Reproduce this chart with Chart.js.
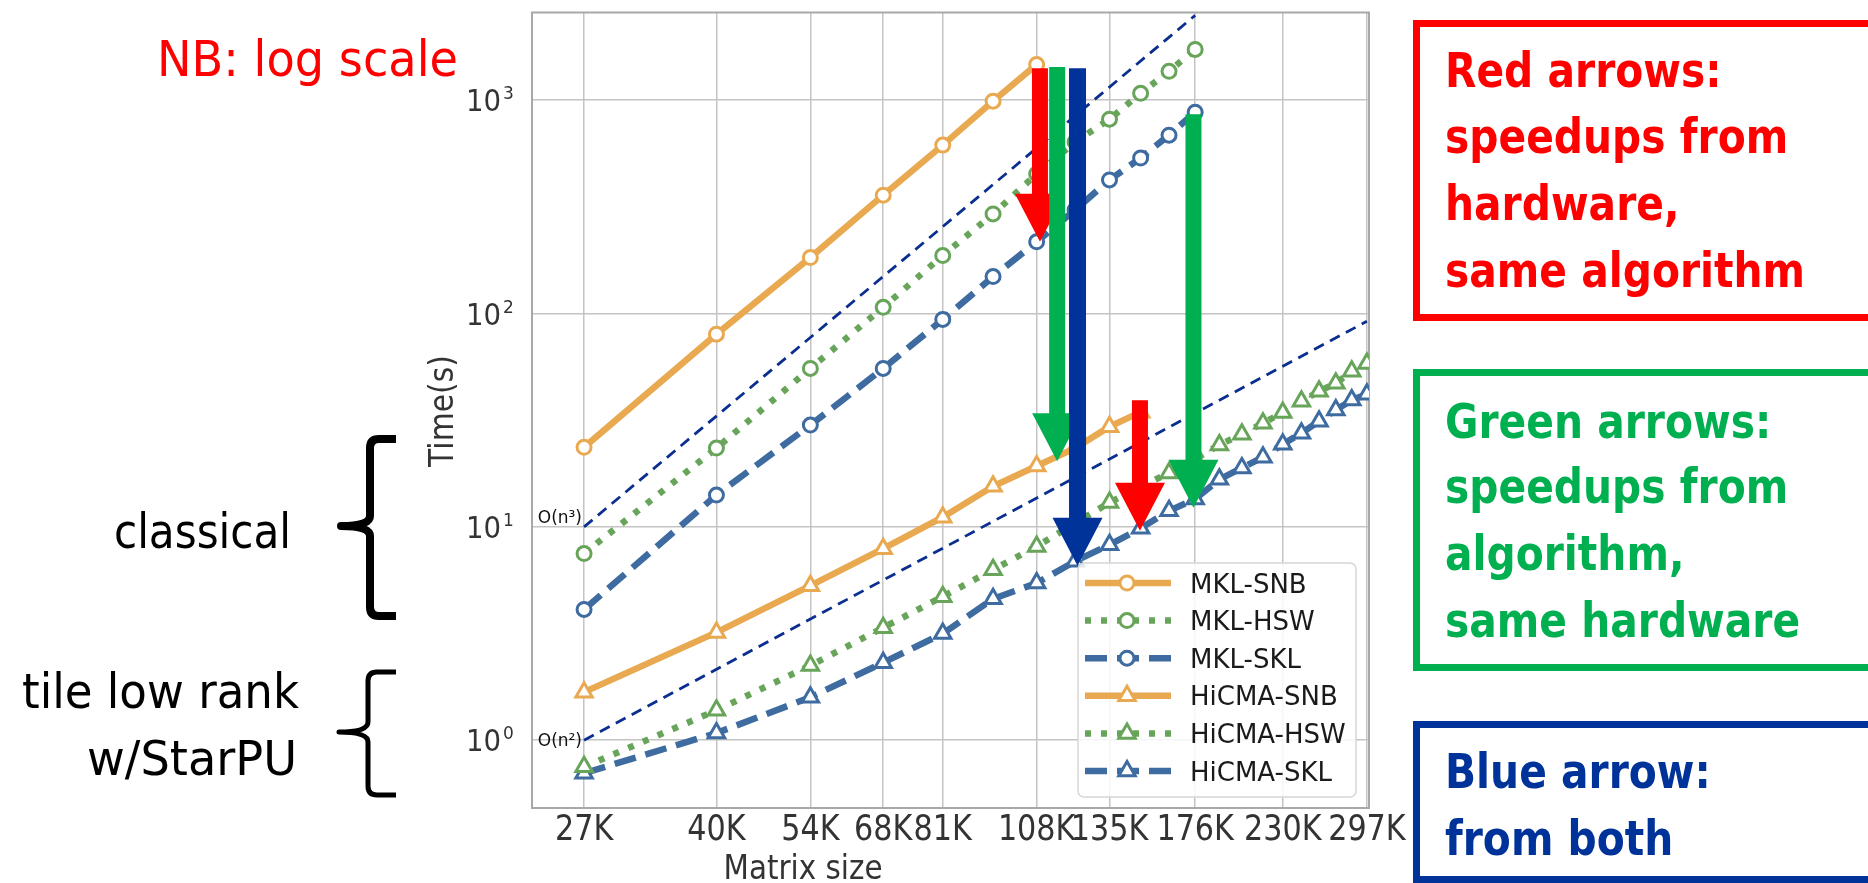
<!DOCTYPE html>
<html>
<head>
<meta charset="utf-8">
<script src="https://cdn.jsdelivr.net/npm/chart.js@4"></script>
<style>
  html, body { margin: 0; padding: 0; background: #fff; }
  canvas { display: block; }
</style>
</head>
<body>
<canvas id="chart" width="1868" height="883"></canvas>
<script>
const ORANGE = "#e9a951";
const GREEN = "#68a55a";
const BLUE = "#3e6ba0";
const NAVY = "#0b2f8f";
const TEXT = "#333333";

// matrix sizes in thousands (steps of 13.5K)
const SIZES = [27, 40.5, 54, 67.5, 81, 94.5, 108, 121.5, 135, 148.5, 162,
  175.5, 189, 202.5, 216, 229.5, 243, 256.5, 270, 283.5, 297];
const X_TICKS = [27, 40.5, 54, 67.5, 81, 108, 135, 175.5, 229.5, 297];
const X_TICK_LABELS = ["27K", "40K", "54K", "68K", "81K", "108K", "135K", "176K", "230K", "297K"];
const Y_TICKS = [1, 10, 100, 1000];
const Y_TICK_EXP = ["0", "1", "2", "3"];

// time (s)
const MKL_SNB = [23.6, 80, 183, 359, 616, 990, 1470];
const MKL_HSW = [7.5, 23.4, 55.3, 107, 187, 293, 451, 637, 815, 1078, 1367, 1730];
const MKL_SKL = [4.1, 14.1, 30, 55.3, 93.8, 149, 217, 306, 423, 536, 686, 879];
const HICMA_SNB = [1.68, 3.2, 5.3, 7.9, 11.1, 15.5, 19.3, 23.4, 29.5, 34.5];
const HICMA_HSW = [0.75, 1.38, 2.24, 3.37, 4.71, 6.3, 8.1, 10.4, 13.0, 15.4, 17.9, 20.8,
  24.2, 27.2, 30.6, 34.4, 38.8, 43.2, 47.1, 53.6, 58.4];
const HICMA_SKL = [0.70, 1.08, 1.59, 2.31, 3.16, 4.6, 5.45, 6.9, 8.25, 9.85, 11.9, 13.5,
  16.7, 18.9, 21.2, 24.4, 27.5, 31.3, 35.3, 39.3, 41.8];

// reference slopes
const ON3_X = [27, 175.5];
const ON3_Y = [10, 2500];
const ON2_X = [27, 297];
const ON2_Y = [1, 92];

// speedup arrows: size (K), start and end time (s)
const ARROW_X = [109.1, 115.0, 122.4, 148.2, 174.6];
const ARROW_FROM = [1413, 1433, 1413, 39.2, 860];
const ARROW_TO = [217, 20.3, 6.57, 9.58, 12.3];
const ARROW_COLORS = ["#ff0000", "#00b050", "#003399", "#ff0000", "#00b050"];

const SOLID = [];
const DOTTED = [6, 10];
const DASHED = [22, 10];

const series = [
  { label: "MKL-SNB", data: MKL_SNB, color: ORANGE, dash: SOLID, marker: "circle" },
  { label: "MKL-HSW", data: MKL_HSW, color: GREEN, dash: DOTTED, marker: "circle" },
  { label: "MKL-SKL", data: MKL_SKL, color: BLUE, dash: DASHED, marker: "circle" },
  { label: "HiCMA-SNB", data: HICMA_SNB, color: ORANGE, dash: SOLID, marker: "triangle" },
  { label: "HiCMA-HSW", data: HICMA_HSW, color: GREEN, dash: DOTTED, marker: "triangle" },
  { label: "HiCMA-SKL", data: HICMA_SKL, color: BLUE, dash: DASHED, marker: "triangle" },
];

const toPoints = (xs, ys) => ys.map((y, i) => ({ x: xs[i], y }));

// text with optional horizontal squeeze (fit to a width, or fixed factor)
const drawText = (ctx, text, x, y, font, color, align = "left", width = null, sx = 1) => {
  ctx.save();
  ctx.font = font;
  ctx.fillStyle = color;
  ctx.textAlign = align;
  ctx.textBaseline = "alphabetic";
  if (width) sx = width / ctx.measureText(text).width;
  ctx.translate(x, y);
  ctx.scale(sx, 1);
  ctx.fillText(text, 0, 0);
  ctx.restore();
};

const drawMarker = (ctx, style, x, y, color) => {
  ctx.save();
  ctx.setLineDash([]);
  ctx.fillStyle = "#fff";
  ctx.strokeStyle = color;
  ctx.lineWidth = 3;
  ctx.beginPath();
  if (style === "circle") {
    ctx.arc(x, y, 7, 0, Math.PI * 2);
  } else {
    const r = 9.5;
    for (let i = 0; i < 3; i++) {
      const a = (i * 2 * Math.PI) / 3;
      const px = x + Math.sin(a) * r;
      const py = y - Math.cos(a) * r;
      if (i === 0) ctx.moveTo(px, py);
      else ctx.lineTo(px, py);
    }
    ctx.closePath();
  }
  ctx.fill();
  ctx.stroke();
  ctx.restore();
};

const drawArrow = (ctx, x, yTop, yTip, color, shaft = 8) => {
  const head = 25;
  const headLen = 48;
  ctx.fillStyle = color;
  ctx.beginPath();
  ctx.moveTo(x - shaft, yTop);
  ctx.lineTo(x + shaft, yTop);
  ctx.lineTo(x + shaft, yTip - headLen);
  ctx.lineTo(x + head, yTip - headLen);
  ctx.lineTo(x, yTip);
  ctx.lineTo(x - head, yTip - headLen);
  ctx.lineTo(x - shaft, yTip - headLen);
  ctx.closePath();
  ctx.fill();
};

const drawBrace = (ctx, xTip, xStem, xEnd, yTop, yMid, yBot, lw) => {
  const r = 9;
  ctx.save();
  ctx.strokeStyle = "#000";
  ctx.lineWidth = lw;
  ctx.lineCap = "butt";
  ctx.lineJoin = "round";
  ctx.beginPath();
  ctx.moveTo(xEnd, yTop);
  ctx.lineTo(xStem + r, yTop);
  ctx.quadraticCurveTo(xStem, yTop, xStem, yTop + r);
  ctx.lineTo(xStem, yMid - 10);
  ctx.quadraticCurveTo(xStem, yMid, xTip, yMid);
  ctx.quadraticCurveTo(xStem, yMid, xStem, yMid + 10);
  ctx.lineTo(xStem, yBot - r);
  ctx.quadraticCurveTo(xStem, yBot, xStem + r, yBot);
  ctx.lineTo(xEnd, yBot);
  ctx.stroke();
  ctx.restore();
};

const drawBox = (ctx, x, y, w, h, color, lines, baselines) => {
  ctx.save();
  ctx.strokeStyle = color;
  ctx.lineWidth = 7;
  ctx.strokeRect(x, y, w, h);
  ctx.restore();
  lines.forEach((line, i) => {
    drawText(ctx, line, 1445, baselines[i], "bold 48px 'DejaVu Sans'", color, "left", null, 0.85);
  });
};

const annotationsPlugin = {
  id: "annotationsPlugin",
  beforeDatasetsDraw: (chart) => {
    const { ctx, chartArea: { left, top, right, bottom } } = chart;
    ctx.save();
    ctx.strokeStyle = "#a8a8a8";
    ctx.lineWidth = 2;
    ctx.strokeRect(left, top, right - left, bottom - top);
    ctx.restore();
  },
  afterDraw: (chart) => {
    const { ctx, scales: { x: xs, y: ys } } = chart;

    // tick labels
    X_TICKS.forEach((v, i) => {
      drawText(ctx, X_TICK_LABELS[i], xs.getPixelForValue(v), 840,
        "36px 'DejaVu Sans'", TEXT, "center", null, 0.84);
    });
    Y_TICKS.forEach((v, i) => {
      const py = ys.getPixelForValue(v);
      drawText(ctx, "10", 501, py + 11, "30px 'DejaVu Sans'", TEXT, "right", null, 0.92);
      drawText(ctx, Y_TICK_EXP[i], 503, py - 1, "17px 'DejaVu Sans'", TEXT, "left");
    });

    // axis titles
    drawText(ctx, "Matrix size", 803, 879, "34px 'DejaVu Sans'", TEXT, "center", 159);
    ctx.save();
    ctx.translate(453, 411);
    ctx.rotate(-Math.PI / 2);
    drawText(ctx, "Time(s)", 0, 0, "34px 'DejaVu Sans'", TEXT, "center", 112);
    ctx.restore();

    // slope labels
    drawText(ctx, "O(n³)", 582, ys.getPixelForValue(ON3_Y[0]) - 4, "17px 'DejaVu Sans'", "#111", "right");
    drawText(ctx, "O(n²)", 582, ys.getPixelForValue(ON2_Y[0]) + 6, "17px 'DejaVu Sans'", "#111", "right");

    // legend
    ctx.save();
    ctx.beginPath();
    ctx.roundRect(1078, 563, 278, 234, 6);
    ctx.fillStyle = "rgba(255,255,255,0.85)";
    ctx.fill();
    ctx.strokeStyle = "#d6d6d6";
    ctx.lineWidth = 1.5;
    ctx.stroke();
    ctx.restore();
    series.forEach((s, i) => {
      const ly = 583 + i * 37.6;
      ctx.save();
      ctx.strokeStyle = s.color;
      ctx.lineWidth = 6.5;
      ctx.lineCap = "butt";
      ctx.setLineDash(s.dash);
      ctx.beginPath();
      ctx.moveTo(1085, ly);
      ctx.lineTo(1171, ly);
      ctx.stroke();
      ctx.restore();
      drawMarker(ctx, s.marker, 1127, ly, s.color);
      drawText(ctx, s.label, 1190, ly + 9.5, "26px 'DejaVu Sans'", "#1a1a1a");
    });

    // arrows
    ARROW_X.forEach((v, i) => {
      drawArrow(ctx, xs.getPixelForValue(v), ys.getPixelForValue(ARROW_FROM[i]),
        ys.getPixelForValue(ARROW_TO[i]), ARROW_COLORS[i], i === 2 ? 8.5 : 8);
    });

    // left notes
    drawText(ctx, "NB: log scale", 157, 76, "50px 'DejaVu Sans'", "#ff0000", "left", 301);
    drawText(ctx, "classical", 291, 548, "48px 'DejaVu Sans'", "#000", "right", 177);
    drawText(ctx, "tile low rank", 299, 708, "48px 'DejaVu Sans'", "#000", "right", 277);
    drawText(ctx, "w/StarPU", 297, 775, "48px 'DejaVu Sans'", "#000", "right", 210);
    drawBrace(ctx, 341, 370, 396, 439, 526, 616, 8);
    drawBrace(ctx, 339, 368, 396, 672, 732, 795, 5);

    // right boxes
    drawBox(ctx, 1416.5, 23.5, 520, 294, "#ff0000",
      ["Red arrows:", "speedups from", "hardware,", "same algorithm"], [87, 153, 220, 287]);
    drawBox(ctx, 1416.5, 372.5, 520, 295, "#00b050",
      ["Green arrows:", "speedups from", "algorithm,", "same hardware"], [438, 503, 570, 637]);
    drawBox(ctx, 1416.5, 724.5, 520, 155, "#003399",
      ["Blue arrow:", "from both"], [788, 855]);
  },
};

const datasets = series.map((s) => ({
  label: s.label,
  data: toPoints(SIZES, s.data),
  borderColor: s.color,
  borderWidth: 6.5,
  borderDash: s.dash,
  borderCapStyle: "butt",
  pointStyle: s.marker,
  pointRadius: s.marker === "circle" ? 7 : 9.5,
  pointBorderWidth: 3,
  pointBackgroundColor: "#fff",
  pointBorderColor: s.color,
  tension: 0,
  fill: false,
}));

[[ON3_X, ON3_Y, "O(n^3)"], [ON2_X, ON2_Y, "O(n^2)"]].forEach(([xv, yv, label]) => {
  datasets.push({
    label,
    data: toPoints(xv, yv),
    borderColor: NAVY,
    borderWidth: 2.8,
    borderDash: [11, 7],
    pointRadius: 0,
    tension: 0,
    fill: false,
  });
});

new Chart(document.getElementById("chart").getContext("2d"), {
  type: "line",
  data: { datasets },
  options: {
    responsive: false,
    animation: false,
    layout: { padding: { left: 0, top: 10, right: 499, bottom: 0 } },
    plugins: {
      legend: { display: false },
      tooltip: { enabled: false },
    },
    scales: {
      x: {
        type: "logarithmic",
        min: 23.02,
        max: 298.9,
        afterBuildTicks: (scale) => {
          scale.ticks = X_TICKS.map((value) => ({ value }));
        },
        afterFit: (scale) => {
          scale.height = 75;
        },
        ticks: { display: false },
        grid: { color: "#c4c4c4", lineWidth: 1.5, drawTicks: false },
        border: { display: false },
      },
      y: {
        type: "logarithmic",
        min: 0.481,
        max: 2578,
        afterBuildTicks: (scale) => {
          scale.ticks = Y_TICKS.map((value) => ({ value }));
        },
        afterFit: (scale) => {
          scale.width = 532;
        },
        ticks: { display: false },
        grid: { color: "#c4c4c4", lineWidth: 1.5, drawTicks: false },
        border: { display: false },
      },
    },
  },
  plugins: [annotationsPlugin],
});
</script>
</body>
</html>
